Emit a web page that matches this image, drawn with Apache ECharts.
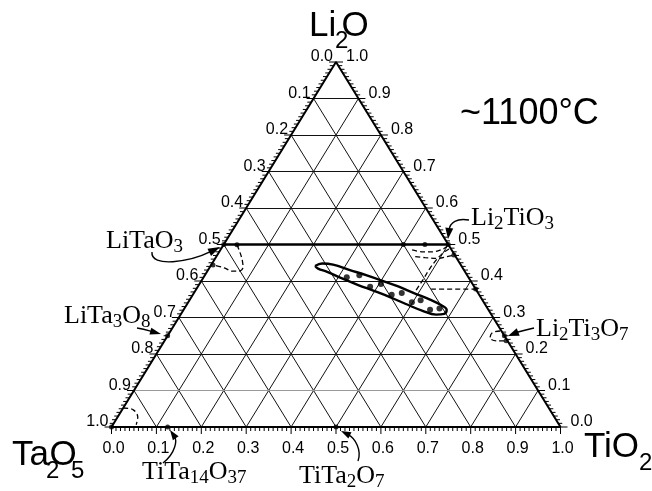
<!DOCTYPE html>
<html><head><meta charset="utf-8">
<script src="https://cdn.jsdelivr.net/npm/echarts@6/dist/echarts.min.js"></script>
<style>html,body{margin:0;padding:0;background:#fff}#c{width:652px;height:491px}</style>
</head><body><div id="c"></div>
<script>
// ================= DATA (compositions as [TiO2, Li2O] fractions) =================
const TICK_VALUES = [0, 0.1, 0.2, 0.3, 0.4, 0.5, 0.6, 0.7, 0.8, 0.9, 1.0];
const TICK_LABELS = ['0.0','0.1','0.2','0.3','0.4','0.5','0.6','0.7','0.8','0.9','1.0'];
const GRID_LEVELS = [0.1, 0.2, 0.3, 0.4, 0.5, 0.6, 0.7, 0.8, 0.9];
const MINOR_TICKS_PER_SIDE = 100;

const VERTEX_TOP = ['Li', '2', 'O'];
const VERTEX_LEFT = ['Ta', '2', 'O', '5'];
const VERTEX_RIGHT = ['TiO', '2'];
const TEMPERATURE = '~1100°C';
const PHASE_NAMES = ['LiTaO_3', 'LiTa_3O_8', 'Li_2TiO_3', 'Li_2Ti_3O_7', 'TiTa_{14}O_{37}', 'TiTa_2O_7'];

const TIE_LINE = [[0.0, 0.5], [0.5, 0.5]];
const BOUNDARY_LITAO3 = [[0.030,0.499],[0.048,0.477],[0.062,0.458],[0.074,0.438],[0.070,0.427],[0.055,0.427],[0.033,0.436],[0.004,0.444]];
const BOUNDARY_LI2TIO3_A = [[0.427,0.485],[0.454,0.480],[0.476,0.480],[0.495,0.488],[0.500,0.495]];
const BOUNDARY_LI2TIO3_B = [[0.443,0.467],[0.466,0.464],[0.494,0.462],[0.514,0.467],[0.527,0.471]];
const BOUNDARY_LI2TIO3_C = [[0.491,0.375],[0.492,0.403],[0.492,0.436],[0.495,0.460],[0.500,0.477],[0.508,0.488]];
const BOUNDARY_LI2TIO3_D = [[0.523,0.378],[0.622,0.378]];
const BOUNDARY_LI2TI3O7 = [[0.734,0.263],[0.719,0.258],[0.721,0.244],[0.739,0.236],[0.761,0.236]];
const BOUNDARY_TA2O5 = [[0.000,0.052],[0.025,0.047],[0.045,0.027],[0.052,0.006]];

const REGION_OUTLINE = [[0.233,0.441],[0.245,0.448],[0.271,0.445],[0.316,0.430],[0.359,0.416],[0.402,0.401],
  [0.446,0.385],[0.490,0.367],[0.535,0.349],[0.567,0.334],[0.586,0.321],[0.586,0.310],[0.569,0.308],
  [0.532,0.319],[0.487,0.337],[0.442,0.356],[0.398,0.373],[0.355,0.389],[0.310,0.407],[0.268,0.425],
  [0.243,0.434],[0.233,0.441]];
const SAMPLES = [[0.319,0.410],[0.344,0.416],[0.384,0.384],[0.404,0.392],[0.443,0.362],[0.463,0.367],
  [0.498,0.342],[0.515,0.347],[0.549,0.321],[0.568,0.325]];
const PHASE_POINTS = [[0.0,0.5],[0.030,0.499],[0.400,0.5],[0.448,0.5],[0.5,0.5],[0.004,0.444],
  [0.527,0.471],[0.622,0.378],[0.761,0.236],[0,0],[0.125,0],[0.5,0],[0,0.25],[0.75,0.25]];

// ================= LAYOUT =================
const T = p => [p[0] + p[1] / 2, p[1]];          // ternary -> cartesian (x, y)
const mc = document.createElement('canvas').getContext('2d');
const SANS = '"Liberation Sans", Arial, sans-serif';
const SERIF = '"Liberation Serif", "Times New Roman", serif';

function txt(t, x, base, fs, fam) {
  return {type: 'text', x: x, y: base - 0.35 * fs, z: 100,
    style: {text: t, font: fs + 'px ' + fam, fill: '#000', textAlign: 'left', textVerticalAlign: 'middle', align: 'left', verticalAlign: 'middle'}};
}
function formula(str, x, base, fs, sfs, drop) {
  const parts = [];
  str.replace(/_\{([^}]*)\}|_(.)|([^_]+)/g, (m, a, b, c) => { parts.push(c ? {t: c, sub: false} : {t: a || b, sub: true}); return m; });
  const els = []; let cx = x;
  parts.forEach(p => {
    const f = p.sub ? sfs : fs;
    mc.font = f + 'px ' + SERIF;
    els.push(txt(p.t, cx, base + (p.sub ? drop : 0), f, SERIF));
    cx += mc.measureText(p.t).width;
  });
  return els;
}
function arrow(p0, c1, c2, p1, len, wid) {
  const dx = p1[0] - c2[0], dy = p1[1] - c2[1], L = Math.hypot(dx, dy);
  const ux = dx / L, uy = dy / L, bx = p1[0] - ux * len, by = p1[1] - uy * len, px = -uy, py = ux;
  return [
    {type: 'bezierCurve', z: 100, shape: {x1: p0[0], y1: p0[1], cpx1: c1[0], cpy1: c1[1], cpx2: c2[0], cpy2: c2[1], x2: bx + ux * 2, y2: by + uy * 2},
      style: {stroke: '#000', lineWidth: 1.4, fill: 'none'}},
    {type: 'polygon', z: 100, shape: {points: [[p1[0], p1[1]], [bx + px * wid / 2, by + py * wid / 2], [bx - px * wid / 2, by - py * wid / 2]]},
      style: {fill: '#000'}}
  ];
}

const graphics = [];
// vertex labels
graphics.push(txt(VERTEX_TOP[0], 309, 39, 35, SANS), txt(VERTEX_TOP[1], 335, 50, 24, SANS), txt(VERTEX_TOP[2], 341.5, 39, 35, SANS));
graphics.push(txt(VERTEX_LEFT[0], 12, 468, 35, SANS), txt(VERTEX_LEFT[1], 46, 480, 24, SANS), txt(VERTEX_LEFT[2], 49.5, 468, 35, SANS), txt(VERTEX_LEFT[3], 71, 480, 24, SANS));
graphics.push(txt(VERTEX_RIGHT[0], 584, 460, 35, SANS), txt(VERTEX_RIGHT[1], 639, 472, 24, SANS));
graphics.push(txt(TEMPERATURE, 460, 127, 36, SANS));
// phase labels
const labelPos = [[106, 250], [64, 325], [471, 227], [536, 338], [142, 481], [299, 485]];
PHASE_NAMES.forEach((n, i) => graphics.push(...formula(n, labelPos[i][0], labelPos[i][1], 26, 19, 4)));
// arrows
graphics.push(...arrow([152, 252], [150, 268], [190, 262], [220, 247], 12, 8));
graphics.push(...arrow([137, 328], [145, 329], [150, 331], [161, 334], 11, 7));
graphics.push(...arrow([469, 220], [457, 218], [450, 222], [448, 239], 11, 8));
graphics.push(...arrow([534, 328], [525, 330], [518, 332], [508, 336], 11, 8));
graphics.push(...arrow([163, 463], [176, 453], [177, 440], [170, 430], 10, 7));
graphics.push(...arrow([358, 461], [362, 450], [355, 438], [341, 431], 10, 7));

// grid segments
const gridSegs = [], grayNote = [];
GRID_LEVELS.forEach(v => {
  (v === 0.1 ? grayNote : gridSegs).push({coords: [T([0, v]), T([1 - v, v])]});
  gridSegs.push({coords: [T([v, 0]), T([v, 1 - v])]});
  gridSegs.push({coords: [T([v, 0]), T([0, v])]});
});

// ticks data: [side, value, major]
const tickData = [];
for (let s = 0; s < 3; s++) for (let i = 0; i <= MINOR_TICKS_PER_SIDE; i++) tickData.push([s, i / MINOR_TICKS_PER_SIDE, i % 10 === 0 ? 1 : 0]);
const labelData = [];
for (let s = 0; s < 3; s++) TICK_VALUES.forEach((v, i) => labelData.push([s, v, i]));

function sidePoint(s, v) {
  if (s === 0) return [v, 0];          // bottom: TiO2
  if (s === 1) return [0, 1 - v];      // left: Ta2O5
  return [1 - v, v];                   // right: Li2O
}

const dashed = (d) => ({type: 'line', data: d.map(T), smooth: 0.35, showSymbol: false, clip: false, silent: true,
  lineStyle: {color: '#000', width: 1.3, type: [5, 3]}, z: 3});

const option = {
  animation: false,
  backgroundColor: '#fff',
  grid: {left: 111.5, top: 62, width: 449, height: 365},
  xAxis: {type: 'value', min: 0, max: 1, show: false},
  yAxis: {type: 'value', min: 0, max: 1, show: false},
  graphic: graphics,
  series: [
    {type: 'lines', coordinateSystem: 'cartesian2d', data: gridSegs, silent: true, lineStyle: {color: '#111', width: 1, opacity: 1}, z: 1},
    {type: 'lines', coordinateSystem: 'cartesian2d', data: grayNote, silent: true, lineStyle: {color: '#999', width: 1.2, opacity: 1}, z: 1},
    {type: 'line', data: [[0,0],[1,0],[0,1],[0,0]].map(T), showSymbol: false, clip: false, silent: true, lineStyle: {color: '#000', width: 2}, z: 4},
    {type: 'line', data: TIE_LINE.map(T), showSymbol: false, clip: false, silent: true, lineStyle: {color: '#000', width: 2.3}, z: 4},
    dashed(BOUNDARY_LITAO3), dashed(BOUNDARY_LI2TIO3_A), dashed(BOUNDARY_LI2TIO3_B), dashed(BOUNDARY_LI2TIO3_C),
    dashed(BOUNDARY_LI2TIO3_D), dashed(BOUNDARY_LI2TI3O7), dashed(BOUNDARY_TA2O5),
    {type: 'line', data: REGION_OUTLINE.map(T), smooth: 0.4, showSymbol: false, clip: false, silent: true,
      lineStyle: {color: '#000', width: 2.4}, z: 5},
    {type: 'scatter', data: SAMPLES.map(T), symbolSize: 6, clip: false, itemStyle: {color: '#000'}, z: 6, silent: true},
    {type: 'scatter', data: PHASE_POINTS.map(T), symbolSize: 5, clip: false, itemStyle: {color: '#000'}, z: 6, silent: true},
    {type: 'custom', data: tickData, clip: false, silent: true, z: 5,
      renderItem: (params, api) => {
        const s = api.value(0), v = api.value(1), major = api.value(2);
        const p = api.coord(T(sidePoint(s, v)));
        const dir = s === 0 ? [0, 1] : (s === 1 ? [-1, 0] : [1, 0]);
        const len = major ? 7 : 4;
        return {type: 'line', shape: {x1: p[0], y1: p[1], x2: p[0] + dir[0] * len, y2: p[1] + dir[1] * len},
          style: {stroke: '#000', lineWidth: 1}};
      }},
    {type: 'custom', data: labelData, clip: false, silent: true, z: 7,
      renderItem: (params, api) => {
        const s = api.value(0), v = api.value(1), i = api.value(2);
        const p = api.coord(T(sidePoint(s, v)));
        let x, y, al;
        if (s === 0) { x = p[0] + 2; y = p[1] + 22; al = 'center'; }
        else if (s === 1) { x = p[0] - 3; y = p[1] - 5; al = 'right'; }
        else { x = p[0] + 10; y = p[1] - 5; al = 'left'; }
        return {type: 'text', x: x, y: y, style: {text: TICK_LABELS[i], font: '16px ' + SANS, fill: '#000',
          textAlign: al, textVerticalAlign: 'middle', align: al, verticalAlign: 'middle'}};
      }}
  ]
};
const chart = echarts.init(document.getElementById('c'));
chart.setOption(option);
</script></body></html>
